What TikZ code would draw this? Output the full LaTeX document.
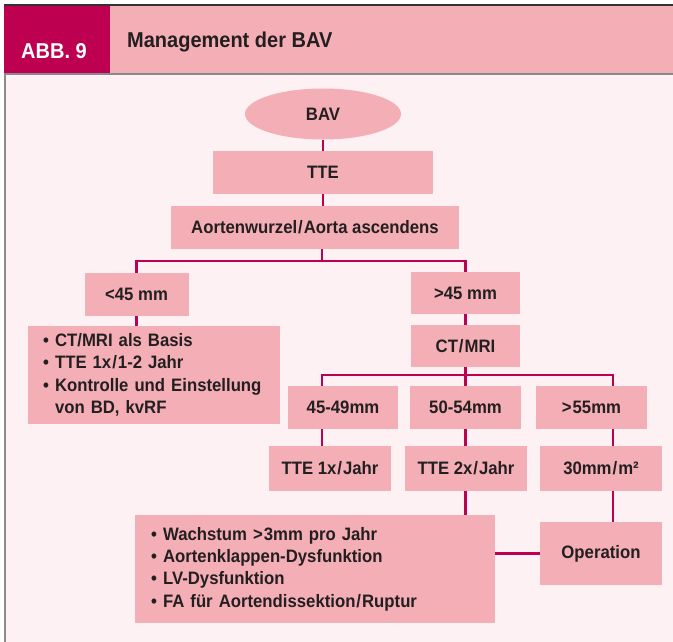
\documentclass[tikz,border=0pt]{standalone}
\usepackage{fontspec}
\setmainfont{Liberation Sans}[FakeStretch=0.93]
\usetikzlibrary{shapes.geometric}
\definecolor{mag}{HTML}{BE0050}
\definecolor{pinkbox}{HTML}{F4AEB6}
\definecolor{bgpink}{HTML}{FDF1F3}
\definecolor{txt}{HTML}{231F20}
\definecolor{framegray}{HTML}{8A8A8A}
\definecolor{framedark}{HTML}{333333}
\newcommand{\slsep}{\kern1pt/\kern1pt}
\begin{document}
\begin{tikzpicture}[x=1pt,y=-1pt,
  box/.style={fill=pinkbox,draw=none,inner sep=0pt,text=txt,
    font=\bfseries\fontsize{18}{22.3}\selectfont,align=center},
  listbox/.style={box,align=left,anchor=west},
  conn/.style={draw=mag,line width=2.6pt}]
\useasboundingbox (0,0) rectangle (673,642);
% frame
\fill[white] (0,0) rectangle (673,642);
\fill[bgpink] (6,75) rectangle (673,642);
\fill[pinkbox] (110,6) rectangle (673,73);
\fill[mag] (4,6) rectangle (110,73);
\fill[framedark] (4,4) rectangle (673,6);
\fill[framegray] (4,73) rectangle (673,75);
\fill[framegray] (4,73) rectangle (6,642);
\node[anchor=base west,inner sep=0pt,text=white,font=\bfseries\fontsize{21.5}{24}\selectfont] (abb) at (21,59) {ABB. 9};
\node[anchor=base west,inner sep=0pt,text=txt,font=\bfseries\fontsize{21.5}{24}\selectfont] (title) at (127,48) {Management der BAV};
% nodes
\node[box,ellipse,minimum width=156pt,minimum height=51pt] (bav) at (323,114) {BAV};
\node[box,minimum width=220pt,minimum height=43pt] (tte) at (323,172.5) {TTE};
\node[box,minimum width=288pt,minimum height=43pt] (aorta) at (315,227.5) {Aortenwurzel\slsep Aorta ascendens};
\node[box,minimum width=104pt,minimum height=43pt] (lt45) at (136.5,294.5) {<45 mm};
\node[box,minimum width=109pt,minimum height=42pt] (gt45) at (465.5,293) {>45 mm};
\node[listbox,text width=222pt,inner xsep=15pt,minimum height=98pt] (leftlist) at (28,375)
  {\textbullet\ CT/MRI als Basis\\
   \textbullet\ TTE 1x\slsep 1-2 Jahr\\
   \textbullet\ Kontrolle und Einstellung\\
   \phantom{\textbullet\ }von BD, kvRF};
\node[box,minimum width=109pt,minimum height=42pt] (ctmri) at (465.5,346) {CT\slsep MRI};
\node[box,minimum width=110pt,minimum height=43pt] (r1) at (343,407.5) {45-49mm};
\node[box,minimum width=111pt,minimum height=43pt] (r2) at (465.5,407.5) {50-54mm};
\node[box,minimum width=111pt,minimum height=43pt] (r3) at (591.5,407.5) {>\kern1pt 55mm};
\node[box,minimum width=122pt,minimum height=45pt] (t1) at (330,468.5) {TTE 1x\slsep Jahr};
\node[box,minimum width=122pt,minimum height=45pt] (t2) at (466,468.5) {TTE 2x\slsep Jahr};
\node[box,minimum width=122pt,minimum height=45pt] (t3) at (601,468.5) {30mm\slsep m²};
\node[listbox,text width=328pt,inner xsep=16pt,minimum height=108pt] (biglist) at (135,569)
  {\textbullet\ Wachstum >\kern1pt 3mm pro Jahr\\
   \textbullet\ Aortenklappen-Dysfunktion\\
   \textbullet\ LV-Dysfunktion\\
   \textbullet\ FA für Aortendissektion\slsep Ruptur};
\node[box,minimum width=122pt,minimum height=63pt] (op) at (601,553.5) {Operation};
% junction coordinates
\coordinate (j1) at (322,261);
\coordinate (j2) at (465.5,375);
\coordinate (c1) at (322,375);
\coordinate (c3) at (613,375);
% connectors
\draw[conn] (bav.south) -- (tte.north);
\draw[conn] (tte.south) -- (tte.south |- aorta.north);
\draw[conn] (j1 |- aorta.south) -- (j1);
\draw[conn] (lt45.north) -- (lt45.north |- j1) -- (gt45.north |- j1) -- (gt45.north);
\draw[conn] (lt45.south) -- (lt45.south |- leftlist.north);
\draw[conn] (gt45.south) -- (ctmri.north);
\draw[conn] (ctmri.south) -- (j2);
\draw[conn] (c1 |- r1.north) -- (c1) -- (c3) -- (c3 |- r3.north);
\draw[conn] (j2) -- (j2 |- r2.north);
\draw[conn] (c1 |- r1.south) -- (c1 |- t1.north);
\draw[conn] (j2 |- r2.south) -- (j2 |- t2.north);
\draw[conn] (c3 |- r3.south) -- (c3 |- t3.north);
\draw[conn] (j2 |- t2.south) -- (j2 |- biglist.north);
\draw[conn] (c3 |- t3.south) -- (c3 |- op.north);
\draw[conn] (op.west) -- (op.west -| biglist.east);
\end{tikzpicture}
\end{document}
